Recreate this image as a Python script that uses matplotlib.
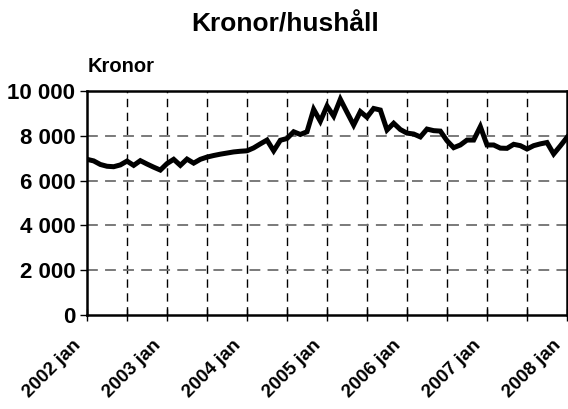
import matplotlib
matplotlib.use("Agg")
import matplotlib.pyplot as plt
from matplotlib.ticker import FuncFormatter
from matplotlib.transforms import ScaledTranslation
import numpy as np

plt.rcParams['font.family'] = ['Liberation Sans', 'DejaVu Sans']

# monthly values, 2002 jan .. 2008 jan
kronor = [6950, 6880, 6720, 6640, 6620, 6700, 6870, 6680, 6890, 6740, 6600, 6470,
          6760, 6950, 6680, 6960, 6780, 6950, 7050, 7120, 7180, 7230, 7280, 7310,
          7330, 7460, 7640, 7810, 7330, 7800, 7880, 8180, 8060, 8180, 9180, 8650,
          9330, 8880, 9630, 9050, 8480, 9080, 8830, 9220, 9150, 8260, 8560, 8280,
          8120, 8080, 7950, 8300, 8230, 8210, 7780, 7470, 7590, 7810, 7810, 8410,
          7590, 7590, 7450, 7440, 7620, 7560, 7410, 7560, 7640, 7700, 7190, 7550,
          7930]
years = [2002, 2003, 2004, 2005, 2006, 2007, 2008]

fig = plt.figure(figsize=(5.68, 4.09), dpi=100)
ax = fig.add_axes([87 / 568, 1 - 315 / 409, 480 / 568, 224 / 409])

x = np.arange(len(kronor))
ax.plot(x, kronor, color='black', lw=3.6, solid_joinstyle='miter', zorder=3)

ax.set_xlim(0, len(kronor) - 1)
ax.set_ylim(0, 10000)

# ticks every half year, labels every year
ax.set_xticks(np.arange(0, len(kronor), 6))
ax.set_xticklabels([f"{years[i // 12]} jan" if i % 12 == 0 else "" for i in range(0, len(kronor), 6)],
                   rotation=45, ha='right', va='center', rotation_mode='anchor',
                   fontsize=13.5, fontweight='bold')
ax.tick_params(axis='x', direction='inout', length=8, width=1, pad=16)
shift = ScaledTranslation(-9 / 100, 0, fig.dpi_scale_trans)
for lab in ax.get_xticklabels():
    lab.set_transform(lab.get_transform() + shift)

ax.set_yticks(np.arange(0, 10001, 2000))
ax.yaxis.set_major_formatter(FuncFormatter(lambda v, p: f"{int(v):,}".replace(",", " ")))
ax.tick_params(axis='y', direction='out', length=5, width=1, labelsize=16)
for lab in ax.get_yticklabels():
    lab.set_fontweight('bold')

for v in range(6, len(kronor) - 1, 6):
    ax.axvline(v, color='black', lw=1, ls=(0, (6, 4)), zorder=1)
for v in range(2000, 10000, 2000):
    ax.axhline(v, color='#707070', lw=1.3, ls=(0, (6, 4)), zorder=1)

for s in ax.spines.values():
    s.set_linewidth(1.8)

fig.text(285 / 568, 1 - 24 / 409, "Kronor/hushåll", ha='center', va='center',
         fontsize=19, fontweight='bold')
fig.text(88 / 568, 1 - 67 / 409, "Kronor", ha='left', va='center',
         fontsize=14.5, fontweight='bold')

fig.savefig("out.png", dpi=100)
